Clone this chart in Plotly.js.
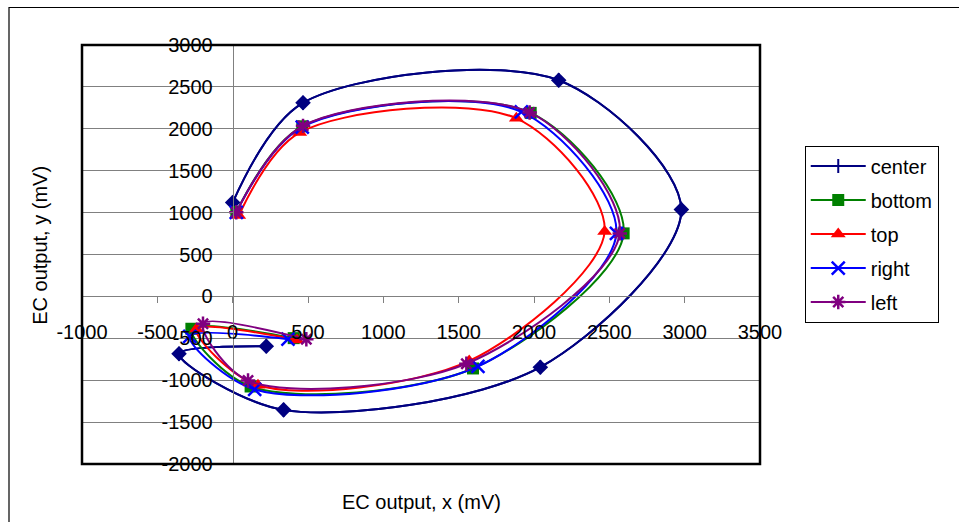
<!DOCTYPE html>
<html>
<head>
<meta charset="utf-8">
<script src="https://cdn.plot.ly/plotly-3.0.1.min.js"></script>
<style>html,body{margin:0;padding:0;background:#fff;}#chart{width:959px;height:522px;}</style>
</head>
<body>
<div id="chart"></div>
<script>
// Data (mV)
const centerX = [0, 467, 2164, 2978, 2042, 338, -356, 223];
const centerY = [1120, 2310, 2580, 1036, -845, -1354, -685, -594];
const bottomX = [24, 462, 1978, 2595, 1595, 119, -274, 405];
const bottomY = [1007, 2030, 2190, 752, -860, -1075, -386, -498];
const topX = [40, 445, 1883, 2469, 1570, 168, -241, 427];
const topY = [965, 1955, 2125, 775, -770, -1060, -390, -520];
const rightX = [24, 462, 1916, 2547, 1628, 146, -285, 367];
const rightY = [1004, 2020, 2202, 752, -836, -1110, -478, -510];
const leftX = [24, 467, 1971, 2569, 1551, 102, -197, 489];
const leftY = [1004, 2035, 2195, 752, -804, -1004, -326, -512];

const seriesNames = ['center', 'bottom', 'top', 'right', 'left'];
const xTickVals = [-1000, -500, 0, 500, 1000, 1500, 2000, 2500, 3000, 3500];
const xTickText = ['-1000', '-500', '0', '500', '1000', '1500', '2000', '2500', '3000', '3500'];
const yTickVals = [-2000, -1500, -1000, -500, 0, 500, 1000, 1500, 2000, 2500, 3000];
const yTickText = ['-2000', '-1500', '-1000', '-500', '0', '500', '1000', '1500', '2000', '2500', '3000'];

const FONT = 'Liberation Sans, Arial, sans-serif';
const line = (c) => ({color: c, width: 2, shape: 'spline', smoothing: 0.9});

const traces = [
  // legend entry for center (plus-style marker as in the legend)
  {x: centerX, y: centerY, name: seriesNames[0], mode: 'lines+markers', legendgroup: 'g0',
   line: line('#000080'), marker: {symbol: 'line-ns-open', size: 10, line: {color: '#000080', width: 2}}},
  {x: centerX, y: centerY, name: seriesNames[0], mode: 'lines+markers', showlegend: false, legendgroup: 'g0',
   line: line('#000080'), marker: {symbol: 'diamond', size: 12, color: '#000080'}},
  {x: bottomX, y: bottomY, name: seriesNames[1], mode: 'lines+markers', legendgroup: 'g1',
   line: line('#008000'), marker: {symbol: 'square', size: 12, color: '#008000'}},
  {x: topX, y: topY, name: seriesNames[2], mode: 'lines+markers', legendgroup: 'g2',
   line: line('#FF0000'), marker: {symbol: 'triangle-up', size: 13, color: '#FF0000'}},
  {x: rightX, y: rightY, name: seriesNames[3], mode: 'lines+markers', legendgroup: 'g3',
   line: line('#0000FF'), marker: {symbol: 'x-thin-open', size: 13, line: {color: '#0000FF', width: 2.5}}},
  {x: leftX, y: leftY, name: seriesNames[4], mode: 'lines+markers', legendgroup: 'g4',
   line: line('#800080'), marker: {symbol: 'asterisk-open', size: 12, line: {color: '#800080', width: 2.5}}}
];

const layout = {
  width: 959, height: 522,
  margin: {l: 82, r: 199, t: 45, b: 58, pad: 0},
  paper_bgcolor: '#ffffff', plot_bgcolor: '#ffffff',
  font: {family: FONT, size: 20, color: '#000'},
  showlegend: true,
  xaxis: {
    range: [-1000, 3500], tickmode: 'array', tickvals: xTickVals, ticktext: xTickText,
    anchor: 'free', position: 0.4, showgrid: false, zeroline: false,
    showline: true, linecolor: '#808080', linewidth: 1,
    ticks: 'outside', ticklen: 6, tickcolor: '#808080', tickwidth: 1,
    ticklabelstandoff: 12, tickfont: {family: FONT, size: 20, color: '#000'}
  },
  yaxis: {
    range: [-2000, 3000], tickmode: 'array', tickvals: yTickVals, ticktext: yTickText,
    anchor: 'free', position: 1000 / 4500, showgrid: true, gridcolor: '#808080', gridwidth: 1,
    zeroline: false, showline: true, linecolor: '#808080', linewidth: 1,
    ticks: 'outside', ticklen: 6, tickcolor: '#808080', tickwidth: 1,
    ticklabelstandoff: 10, tickfont: {family: FONT, size: 20, color: '#000'}
  },
  legend: {
    x: 1.066, y: 0.76, xanchor: 'left', yanchor: 'top', itemwidth: 55,
    bordercolor: '#000', borderwidth: 1, bgcolor: '#fff',
    font: {family: FONT, size: 20, color: '#000'}, tracegroupgap: 5
  },
  annotations: [
    {text: 'EC output, x (mV)', xref: 'paper', yref: 'paper', x: 0.5, y: -0.09,
     xanchor: 'center', yanchor: 'middle', showarrow: false, font: {family: FONT, size: 20, color: '#000'}},
    {text: 'EC output, y (mV)', xref: 'paper', yref: 'paper', x: -0.062, y: 0.523, textangle: -90,
     xanchor: 'center', yanchor: 'middle', showarrow: false, font: {family: FONT, size: 20, color: '#000'}}
  ],
  shapes: [
    {type: 'rect', xref: 'paper', yref: 'paper', x0: 0, x1: 1, y0: 0, y1: 1,
     line: {color: '#000', width: 2.5}, layer: 'above'},
    {type: 'rect', xref: 'paper', yref: 'paper', x0: -73 / 678, x1: 1.3, y0: -0.2, y1: 1 + 37.5 / 419,
     line: {color: '#000', width: 1.2}, layer: 'above'}
  ]
};

Plotly.newPlot('chart', traces, layout, {displayModeBar: false, staticPlot: true});
</script>
</body>
</html>
